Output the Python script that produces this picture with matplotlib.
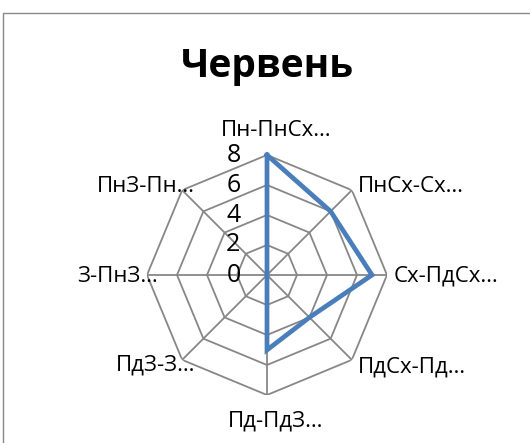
import numpy as np
import matplotlib
matplotlib.use("Agg")
import matplotlib.pyplot as plt
from matplotlib.patches import Rectangle

plt.rcParams['font.family'] = ['Open Sans', 'DejaVu Sans']

# дані
categories = ["Пн-ПнСх…", "ПнСх-Сх…", "Сх-ПдСх…", "ПдСх-Пд…",
              "Пд-ПдЗ…", "ПдЗ-З…", "З-ПнЗ…", "ПнЗ-Пн…"]
values = [8, 6, 7, 4, 5, 0, 0, 0]
levels = [0, 2, 4, 6, 8]
title = "Червень"

W, H = 530, 443
fig = plt.figure(figsize=(W / 100, H / 100), dpi=100)

# рамка діаграми
fig.patches.append(Rectangle((3 / W, -0.1), 1.2, 1 - 13 / H + 0.1, transform=fig.transFigure,
                             fill=False, edgecolor='#898989', lw=1.0))

cx, cy, rad = 267, 275, 120
ax = fig.add_axes([(cx - rad) / W, (H - cy - rad) / H, 2 * rad / W, 2 * rad / H], projection='polar')
ax.set_theta_zero_location('N')
ax.set_theta_direction(-1)
ax.set_ylim(0, 8)
ax.grid(False)
ax.spines['polar'].set_visible(False)
ax.set_xticks([])
ax.set_yticks([])
ax.patch.set_alpha(0)

n = len(categories)
angles = np.linspace(0, 2 * np.pi, n, endpoint=False)
closed = np.append(angles, angles[0])

grid_col = '#878787'
for lv in levels[1:]:
    ax.plot(closed, [lv] * (n + 1), color=grid_col, lw=1.3, zorder=1)
for a in angles:
    ax.plot([a, a], [0, levels[-1]], color=grid_col, lw=1.3, zorder=1)

ax.plot(closed, values + [values[0]], color='#4A7EBB', lw=3.4, zorder=3,
        solid_joinstyle='miter', clip_on=False)

# підписи шкали
for lv in levels:
    ax.annotate(str(lv), xy=(0, lv), xytext=(-19, 0), textcoords='offset points',
                ha='right', va='center', fontsize=18, annotation_clip=False)

# підписи категорій (зсув у пікселях)
offs = [(9, 25, 'center'), (6, 4, 'left'), (7, -1, 'left'), (6, -7, 'left'),
        (9, -26, 'center'), (13, -5, 'right'), (11, -1, 'right'), (13, 4, 'right')]
for a, lab, (dx, dy, ha) in zip(angles, categories, offs):
    ax.annotate(lab, xy=(a, levels[-1]), xytext=(dx * 0.72, dy * 0.72), textcoords='offset points',
                ha=ha, va='center', fontsize=16, annotation_clip=False)

fig.text(267 / W, 1 - 66 / H, title, ha='center', va='center', fontsize=28, fontweight='bold')

fig.savefig('out.png', dpi=100)
